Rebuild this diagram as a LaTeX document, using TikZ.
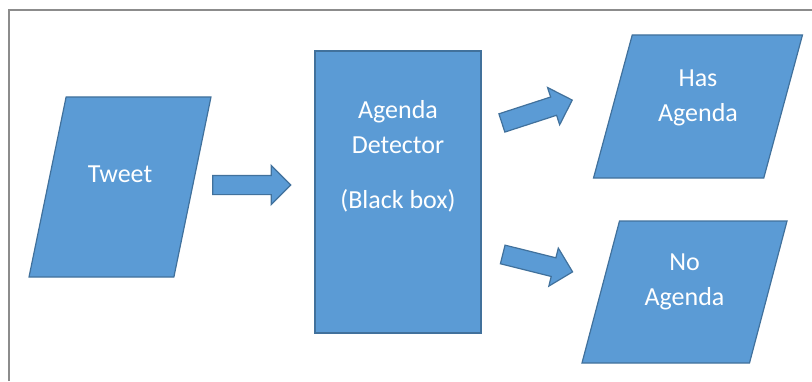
\documentclass[tikz,border=0pt]{standalone}
\usepackage{fontspec}
\setmainfont{Carlito}
\usetikzlibrary{shapes.geometric, shapes.arrows, positioning}

\definecolor{boxfill}{HTML}{5B9BD5}
\definecolor{boxline}{HTML}{41719C}
\definecolor{framegray}{HTML}{8C8C8C}

\tikzset{
  block/.style={draw=boxline, fill=boxfill, line width=1.2pt},
  inout/.style={block, trapezium, trapezium stretches, inner sep=2pt},
  fatarrow/.style={block, single arrow, single arrow head extend=10pt,
    inner xsep=0pt, inner ysep=9pt},
  texto/.style={text=white, font=\fontsize{26}{35}\selectfont, align=center}
}

\begin{document}
\begin{tikzpicture}[x=1pt, y=1pt, on grid]
   % Moldura
   \useasboundingbox (0,0) rectangle (812,381);
   \draw[framegray, line width=2.5pt] (9,0) -- (9,371) -- (812,371);

   % Definição das formas
   \node[inout, trapezium left angle=71, trapezium right angle=109,
         minimum width=182pt, minimum height=180pt] (tweet) at (120,194) {};
   \node[block, inner sep=0pt, minimum width=166pt, minimum height=282pt]
         (detector) [below right=5pt and 278pt of tweet] {};
   \node[inout, trapezium left angle=73.6, trapezium right angle=106.4,
         minimum width=209pt, minimum height=143pt]
         (has) [above right=85.5pt and 300pt of detector] {};
   \node[inout, trapezium left angle=73.9, trapezium right angle=106.1,
         minimum width=205pt, minimum height=142pt]
         (no) [below right=100pt and 286.5pt of detector] {};

   % Textos
   \node[texto, above=13pt of tweet] (tweettxt) {Tweet};
   \node[texto, above=36pt of detector] (detectortxt) {Agenda\\Detector\\[20pt](Black box)};
   \node[texto, above=9pt of has] (hastxt) {Has\\Agenda};
   \node[texto, above=10pt of no] (notxt) {No\\Agenda};

   % Definição das setas
   \node[fatarrow, minimum height=78pt] (seta1) [above right=2pt and 127pt of tweet] {};
   \node[fatarrow, minimum height=74pt, rotate=18] (seta2) [above right=79pt and 134.5pt of detector] {};
   \node[fatarrow, minimum height=72pt, rotate=-14] (seta3) [below right=70pt and 135pt of detector] {};
\end{tikzpicture}
\end{document}
